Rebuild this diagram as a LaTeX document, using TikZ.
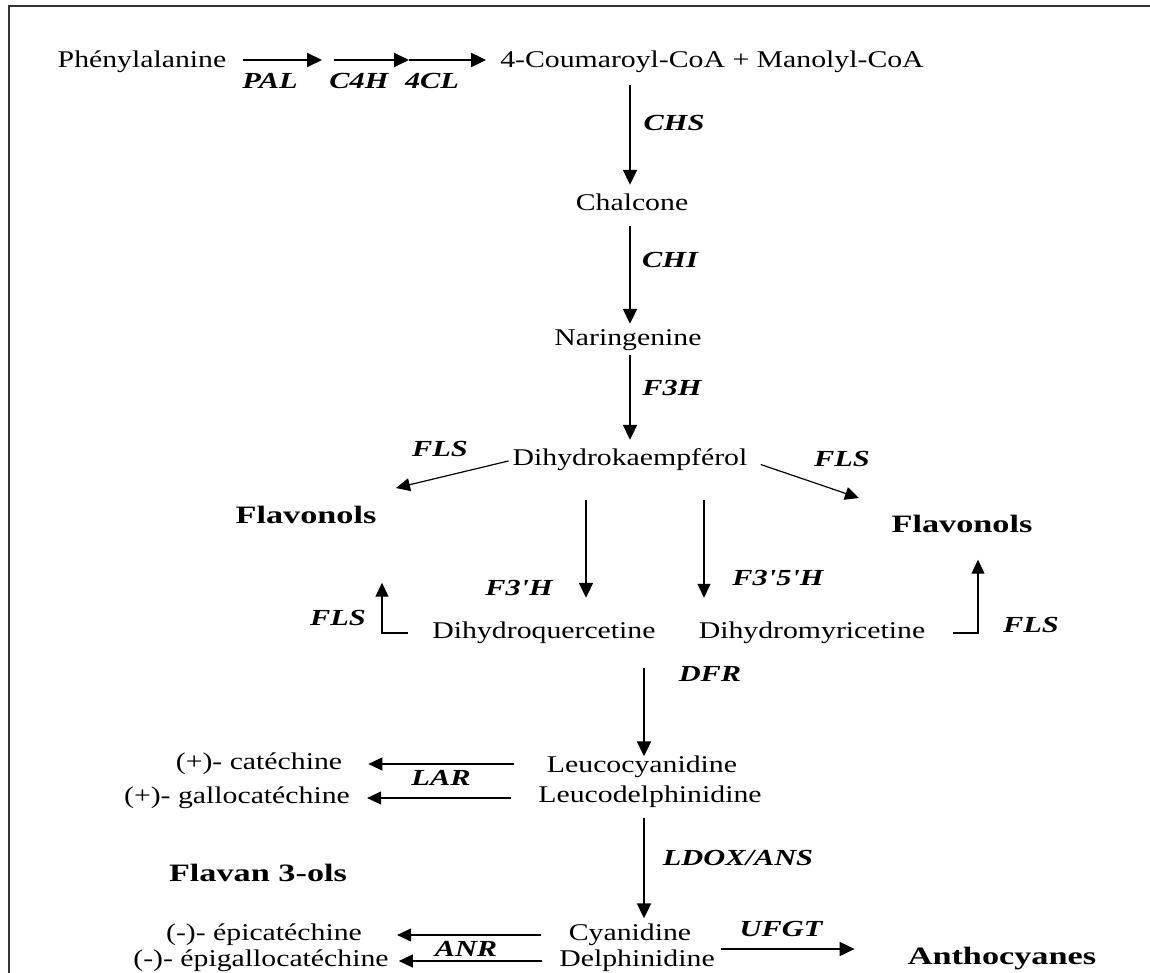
\documentclass[tikz,border=0pt]{standalone}
\usepackage{fontspec}
\setmainfont{Liberation Serif}[FakeStretch=1.24]
\newfontfamily\boldfam{Liberation Serif}[FakeStretch=1.37]
\newfontfamily\labfam{Liberation Serif}[FakeStretch=1.32]
\usetikzlibrary{arrows.meta}
\tikzset{
  txt/.style={inner sep=0pt, text height=16pt, text depth=5pt, font=\fontsize{24}{28}\selectfont},
  bold/.style={inner sep=0pt, text height=16pt, text depth=5pt, font=\boldfam\bfseries\fontsize{25}{29}\selectfont},
  lab/.style={inner sep=0pt, text height=16pt, text depth=5pt, font=\labfam\bfseries\itshape\fontsize{23}{27}\selectfont},
  arr/.style={line width=2pt, -{Triangle[length=15pt,width=14pt]}},
  tarr/.style={line width=1.2pt, -{Triangle[length=14pt,width=13pt]}},
  frame/.style={line width=2.5pt, draw=black!80}
}
\begin{document}
\begin{tikzpicture}[x=1pt,y=-1pt]
\useasboundingbox (0,0) rectangle (1150,973);
\draw[frame] (9,973) -- (9,6) -- (1150,6);

% column coordinates
\coordinate (colA) at (630,0);
\coordinate (colB) at (644,0);
\coordinate (colQ) at (586,0);
\coordinate (colM) at (704,0);

% nodes
\node[txt] (phe) at (142,62) {Phénylalanine};
\node[txt] (coum) at (712,62) {4-Coumaroyl-CoA + Manolyl-CoA};
\coordinate (p1) at (322,60);
\coordinate (p2) at (334,60);
\coordinate (p3) at (409,60);
\node[txt] (chal) at (632,205) {Chalcone};
\node[txt] (nar) at (628,340) {Naringenine};
\node[txt] (dhk) at (630,460) {Dihydrokaempférol};
\node[bold] (flavL) at (306,518) {Flavonols};
\node[bold] (flavR) at (962,527) {Flavonols};
\node[txt] (dhq) at (544,633) {Dihydroquercetine};
\node[txt] (dhm) at (812,633) {Dihydromyricetine};
\node[txt] (leucoc) at (642,767) {Leucocyanidine};
\node[txt] (leucod) at (650,797) {Leucodelphinidine};
\node[txt] (cat) at (259,764) {(+)- catéchine};
\node[txt] (gcat) at (237,798) {(+)- gallocatéchine};
\node[bold] (flavan) at (258,876) {Flavan 3-ols};
\node[txt] (cya) at (630,935) {Cyanidine};
\node[txt] (del) at (637,961) {Delphinidine};
\node[txt] (epi) at (264,935) {(-)- épicatéchine};
\node[txt] (egc) at (261,961) {(-)- épigallocatéchine};
\node[bold] (antho) at (1002,959) {Anthocyanes};

% enzyme labels
\node[lab] (lpal) at (270,83) {PAL};
\node[lab] (lc4h) at (359,83) {C4H};
\node[lab] (l4cl) at (432,83) {4CL};
\node[lab] (lchs) at (674,125) {CHS};
\node[lab] (lchi) at (670,262) {CHI};
\node[lab] (lf3h) at (672,390) {F3H};
\node[lab] (lflsa) at (440,451) {FLS};
\node[lab] (lflsb) at (842,461) {FLS};
\node[lab] (lf3ph) at (519,590) {F3'H};
\node[lab] (lf35h) at (778,580) {F3'5'H};
\node[lab] (lflsc) at (338,620) {FLS};
\node[lab] (lflsd) at (1031,627) {FLS};
\node[lab] (ldfr) at (710,676) {DFR};
\node[lab] (llar) at (441,780) {LAR};
\node[lab] (lanr) at (466,951) {ANR};
\node[lab] (lldox) at (738,860) {LDOX/ANS};
\node[lab] (lufgt) at (781,931) {UFGT};

% top row
\draw[arr, shorten <=17pt] (phe.east |- p1) -- (p1);
\draw[arr] (p2) -- (p3);
\draw[arr, shorten >=14pt] (p3) -- (coum.west |- p3);

% main column
\draw[arr, shorten <=12.5pt, shorten >=9.5pt] (coum.south -| colA) -- (chal.north -| colA);
\draw[arr, shorten <=10.5pt, shorten >=5.5pt] (chal.south -| colA) -- (nar.north -| colA);
\draw[arr, shorten <=4.5pt, shorten >=9.5pt] (nar.south -| colA) -- (dhk.north -| colA);

% flavonols from dihydrokaempferol
\coordinate (flsA) at (396,488);
\coordinate (flsB) at (859,498);
\draw[tarr, shorten <=4pt] (dhk.west) -- (flsA);
\draw[tarr, shorten <=14pt] (dhk.east) -- (flsB);

% hydroxylases
\draw[arr, shorten <=29.5pt, shorten >=24.5pt] (dhk.south -| colQ) -- (dhq.north -| colQ);
\draw[tarr, shorten <=29.5pt, shorten >=24.5pt] (dhk.south -| colM) -- (dhm.north -| colM);

% FLS elbows
\coordinate (elbL) at (382,633);
\coordinate (elbR) at (978,633);
\draw[tarr, shorten <=24pt, shorten >=54pt] (dhq.west) -- (elbL) -- (flavL.south -| elbL);
\draw[tarr, shorten <=28pt, shorten >=22pt] (dhm.east) -- (elbR) -- (flavR.south -| elbR);

% DFR, LDOX
\draw[arr, shorten <=24.5pt] (dhq.south -| colB) -- (leucoc.north -| colB);
\draw[arr, shorten <=10.5pt, shorten >=6pt] (leucod.south -| colB) -- (cya.north -| colB);

% LAR
\draw[tarr, shorten <=33pt, shorten >=26pt] (leucoc.west |- cat.east) -- (cat.east);
\draw[tarr, shorten <=27pt, shorten >=17pt] (leucod.west |- gcat) -- (gcat.east);

% ANR
\draw[tarr, shorten <=28pt, shorten >=35pt] (cya.west) -- (epi.east);
\draw[tarr, shorten <=17pt, shorten >=10pt] (del.west |- egc) -- (egc.east);

% UFGT
\coordinate (uy) at (0,949);
\draw[arr, shorten <=30pt, shorten >=53pt] (cya.east |- uy) -- (antho.west |- uy);
\end{tikzpicture}
\end{document}
